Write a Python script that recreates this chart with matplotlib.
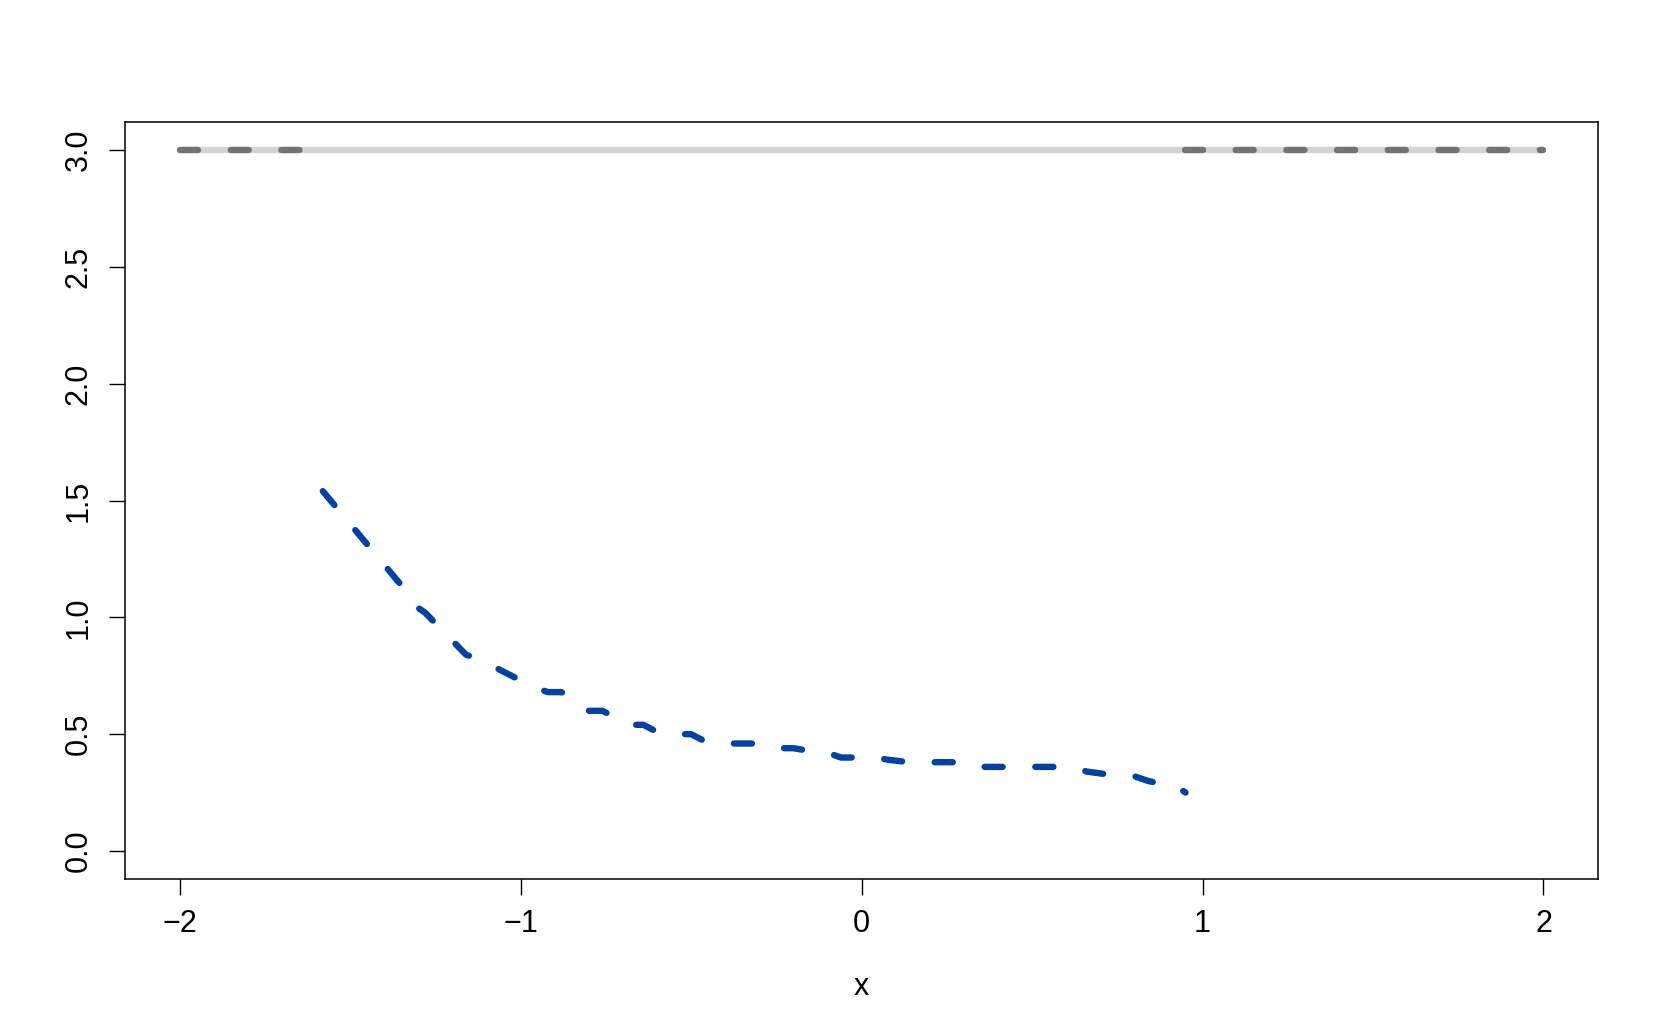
import matplotlib
matplotlib.use("Agg")
import matplotlib.pyplot as plt

plt.rcParams['font.family'] = ['Liberation Sans', 'DejaVu Sans']
plt.rcParams['lines.scale_dashes'] = False

# Data
curve_x = [-1.58, -1.50, -1.42, -1.34, -1.30, -1.28, -1.24, -1.20, -1.16, -1.12,
           -1.04, -0.96, -0.92, -0.88, -0.84, -0.80, -0.76, -0.72, -0.68, -0.64,
           -0.60, -0.56, -0.50, -0.46, -0.40, -0.30, -0.24, -0.20, -0.16, -0.10,
           -0.06, 0.04, 0.08, 0.14, 0.30, 0.34, 0.62, 0.66, 0.76, 0.80,
           0.84, 0.90, 0.92, 0.95]
curve_y = [1.54, 1.40, 1.26, 1.12, 1.04, 1.02, 0.96, 0.90, 0.84, 0.82,
           0.76, 0.70, 0.68, 0.68, 0.64, 0.60, 0.60, 0.57, 0.54, 0.54,
           0.51, 0.50, 0.50, 0.47, 0.46, 0.46, 0.44, 0.44, 0.43, 0.42,
           0.40, 0.40, 0.39, 0.38, 0.38, 0.36, 0.36, 0.34, 0.32, 0.32,
           0.30, 0.28, 0.28, 0.25]
ref_level = 3.0
full_range = [-2.0, 2.0]
left_gap = [-2.0, -1.58]
right_gap = [0.95, 2.0]
x_ticks = [-2, -1, 0, 1, 2]
x_labels = ['\u22122', '\u22121', '0', '1', '2']
y_ticks = [0.0, 0.5, 1.0, 1.5, 2.0, 2.5, 3.0]
y_labels = ['0.0', '0.5', '1.0', '1.5', '2.0', '2.5', '3.0']

fig = plt.figure(figsize=(16.61, 10.35), dpi=100)
ax = fig.add_axes([0.0753, 0.1507, 0.8868, 0.7314])

lw = 4.6
dash = (0, (13, 23.5))
ax.plot(full_range, [ref_level, ref_level], color='#D3D3D3', lw=lw, solid_capstyle='round')
ax.plot(left_gap, [ref_level, ref_level], color='#737373', lw=lw, linestyle=dash,
        dash_capstyle='round')
ax.plot(right_gap, [ref_level, ref_level], color='#737373', lw=lw, linestyle=dash,
        dash_capstyle='round')
ax.plot(curve_x, curve_y, color='#0041A6', lw=lw, linestyle=dash,
        dash_capstyle='round', dash_joinstyle='round')

ax.set_xlim(-2.16, 2.16)
ax.set_ylim(-0.12, 3.12)
ax.set_xticks(x_ticks)
ax.set_xticklabels(x_labels)
ax.set_yticks(y_ticks)
ax.set_yticklabels(y_labels, rotation=90, va='center')
ax.tick_params(axis='both', length=11.5, width=1.0, labelsize=22, color='black')
ax.tick_params(axis='x', pad=10)
ax.tick_params(axis='y', pad=11)
for s in ax.spines.values():
    s.set_linewidth(1.1)
ax.set_xlabel('x', fontsize=22, labelpad=24)

fig.savefig('out.png', dpi=100)
